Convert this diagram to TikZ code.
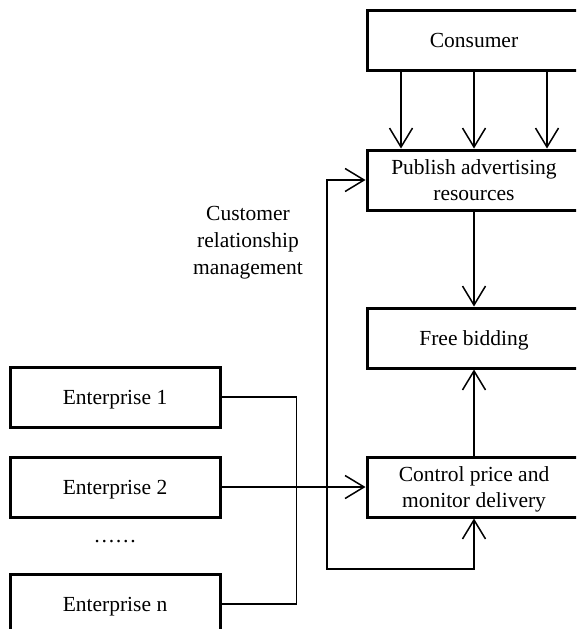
\documentclass[tikz,border=0pt]{standalone}
\usepackage{fontspec}
\setmainfont{Liberation Serif}
\usetikzlibrary{arrows.meta,positioning}

\tikzset{
  box/.style={draw, line width=3pt, minimum width=214pt, minimum height=60pt,
    inner sep=0pt, text depth=0pt, align=center, font=\fontsize{21.5}{26.5}\selectfont},
  barb/.tip={Straight Barb[length=19pt,width=23pt]},
  conn/.style={line width=1.5pt, -barb},
}

\begin{document}
\begin{tikzpicture}[x=1pt, y=-1pt]
  \useasboundingbox (0,0) rectangle (576,629);
  \clip (0,0) rectangle (576,629);

  % platform side
  \node [box] (consumer) at (474,40)  {Consumer};
  \node [box] (publish)  at (474,180) {Publish advertising\\resources};
  \node [box] (bidding)  at (474,338) {Free bidding};
  \node [box] (control)  at (474,487) {Control price and\\monitor delivery};

  % enterprises
  \node [box, minimum width=210pt] (ent1) at (115,397) {Enterprise 1};
  \node [box, minimum width=210pt] (ent2) at (115,487) {Enterprise 2};
  \node [font=\fontsize{21.5}{26}\selectfont] (dots) at (115,542) {\dots\dots};
  \node [box, minimum width=210pt] (entn) at (115,604) {Enterprise n};

  \node [align=center, font=\fontsize{21.5}{27}\selectfont] (crmlabel) at (248,243)
    {Customer\\relationship\\management};

  \foreach \dx in {-73,0,73}
    \draw [conn] ([xshift=\dx]consumer.south) -- ([xshift=\dx]publish.north);
  \draw [conn] (publish) -- (bidding);
  \draw [conn] (control) -- (bidding);

  \draw [line width=1.5pt] (ent1.east) -- ++(75,0) |- (entn.east);
  \draw [conn] (ent2.east) -- (control.west);

  \coordinate (crm) at (327,569);
  \draw [conn, barb-barb] (publish.west) -| (crm) -| (control.south);
\end{tikzpicture}
\end{document}
